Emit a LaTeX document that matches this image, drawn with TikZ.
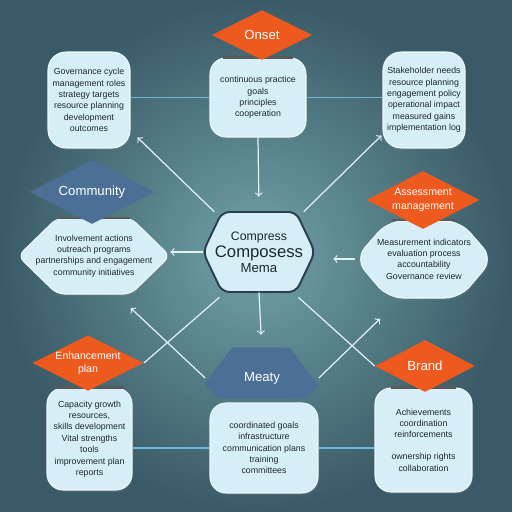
\documentclass[tikz,border=0pt]{standalone}
\usepackage{fontspec}
\setsansfont{Liberation Sans}
\usetikzlibrary{arrows}
\usetikzlibrary{positioning}
\usetikzlibrary{shapes.geometric}
\usetikzlibrary{shadows}
\definecolor{bgcenter}{RGB}{112, 163, 166}
\definecolor{bgedge}{RGB}{58, 90, 103}
\definecolor{flame}{RGB}{238, 90, 30}
\definecolor{steel}{RGB}{76, 111, 149}
\definecolor{frost}{RGB}{214, 238, 246}
\definecolor{frostline}{RGB}{236, 248, 252}
\definecolor{navy}{RGB}{44, 62, 85}
\definecolor{ink}{RGB}{30, 40, 46}
\definecolor{wire}{RGB}{226, 240, 244}
\definecolor{skyline}{RGB}{110, 182, 216}

\tikzset{
  card/.style={rectangle, rounded corners=0.32cm, fill=frost, draw=frostline, line width=0.6pt,
    align=center, text=ink, font=\sffamily\fontsize{5}{6.5}\selectfont, inner sep=0pt,
    drop shadow={opacity=0.25, shadow xshift=0.6pt, shadow yshift=-1.2pt}},
  hexback/.style={fill=frost, draw=frostline, line width=0.6pt, rounded corners=0.15cm,
    drop shadow={opacity=0.25, shadow xshift=0.6pt, shadow yshift=-1.2pt}},
  hextext/.style={align=center, text=ink, font=\sffamily\fontsize{5}{6.5}\selectfont, inner sep=0pt},
  tag/.style={diamond, aspect=2, inner sep=0pt, align=center, text=white,
    font=\sffamily\fontsize{7.5}{8.5}\selectfont},
  hotdiamond/.style={tag, fill=flame},
  colddiamond/.style={tag, fill=steel},
  wireline/.style={draw=wire, line width=0.7pt, >=to},
  rail/.style={draw=skyline, line width=1.1pt},
  capline/.style={draw=black!65, line width=1.3pt}
}

\begin{document}
\begin{tikzpicture}[x=0.02cm, y=-0.02cm]
  \useasboundingbox (0,0) rectangle (512,512);
  \shade[inner color=bgcenter, outer color=bgedge] (0,0) rectangle (512,512);

  % cards
  \node[card, minimum width=1.92cm, minimum height=1.58cm] (goals) at (258,97.5)
       {continuous practice\\goals\\principles\\cooperation};
  \node[card, rounded corners=0.36cm, minimum width=1.64cm, minimum height=1.92cm] (gov) at (89,100)
       {Governance cycle\\management roles\\strategy targets\\resource planning\\development\\outcomes};
  \node[card, rounded corners=0.36cm, minimum width=1.64cm, minimum height=1.92cm] (needs) at (424,100)
       {Stakeholder needs\\resource planning\\engagement policy\\operational impact\\measured gains\\implementation log};

  % hexagon cards
  \path[hexback] (57,218) -- (131,218) -- (170,256) -- (131,294) -- (57,294) -- (18,256) -- cycle;
  \node[hextext, minimum width=3.04cm, minimum height=1.52cm] (reach) at (94,256)
       {Involvement actions\\outreach programs\\partnerships and engagement\\community initiatives};
  \path[hexback, rounded corners=0.3cm] (388,221) -- (460,221) -- (493,259) -- (460,298) -- (388,298) -- (355,259) -- cycle;
  \node[hextext, minimum width=2.76cm, minimum height=1.54cm] (audit) at (424,259)
       {Measurement indicators\\evaluation process\\accountability\\Governance review};
  \path[hexback, draw=navy, line width=1.1pt] (222,212) -- (296,212) -- (315,252) -- (296,292) -- (222,292) -- (203,252) -- cycle;
  \node[hextext, minimum width=2.24cm, minimum height=1.6cm] (hub) at (259,252)
       {{\fontsize{7}{8}\selectfont Compress}\\[1pt]{\fontsize{9.5}{11}\selectfont Composess}\\{\fontsize{7.5}{9}\selectfont Mema}};

  \node[card, minimum width=1.7cm, minimum height=2.04cm] (growth) at (89.5,439)
       {Capacity growth\\resources,\\skills development\\Vital strengths\\tools\\improvement plan\\reports};
  \node[card, minimum width=2.16cm, minimum height=1.8cm] (team) at (264,448)
       {coordinated goals\\infrastructure\\communication plans\\training\\committees};
  \node[card, minimum width=1.94cm, minimum height=2.08cm] (own) at (423.5,440)
       {Achievements\\coordination\\reinforcements\\[6pt]ownership rights\\collaboration};

  % dark rims under the tags
  \draw[capline] ([xshift=-0.7cm]goals.north) -- ([xshift=0.7cm]goals.north);
  \draw[capline] ([xshift=-0.72cm]reach.north) -- ([xshift=0.72cm]reach.north);
  \draw[capline] ([xshift=-0.65cm]audit.north) -- ([xshift=0.65cm]audit.north);
  \draw[capline] ([xshift=-0.7cm]growth.north) -- ([xshift=0.7cm]growth.north);
  \draw[capline] ([xshift=-0.65cm]own.north) -- ([xshift=0.65cm]own.north);

  % tags
  \node[hotdiamond, minimum width=2.0cm, minimum height=1.0cm] (onset) at (262,35) {Onset};
  \node[colddiamond, minimum width=2.5cm, minimum height=1.28cm] (community) at (92,192) {Community};
  \node[hotdiamond, font=\sffamily\fontsize{6}{7.5}\selectfont, minimum width=2.26cm, minimum height=1.16cm]
       (assess) at (423,200) {Assessment\\management};
  \node[hotdiamond, font=\sffamily\fontsize{6}{7.5}\selectfont, minimum width=2.14cm, minimum height=1.06cm]
       (spark) at (88,363) {Enhancement\\plan};
  \node[hotdiamond, minimum width=2.0cm, minimum height=1.04cm] (brand) at (425,366) {Brand};
  \filldraw[steel] (232,348) -- (290,348) -- (318,386) -- (306,398) -- (218,398) -- (205,384) -- cycle;
  \node[text=white, font=\sffamily\fontsize{7.5}{8.5}\selectfont, minimum width=2.26cm, minimum height=1.0cm]
       (meaty) at (262,378) {Meaty};

  % rails
  \draw[rail] (goals.west) -- (goals.west -| gov.east);
  \draw[rail] (goals.east) -- (goals.east -| needs.west);
  \draw[rail] (team.west) -- (team.west -| growth.east);
  \draw[rail] (team.east) -- (team.east -| own.west);

  % connectors
  \draw[wireline, ->, shorten >=0.3cm] (goals.south) -- (hub.north);
  \draw[wireline, ->] (hub.138) -- ([shift={(0.14cm,0.22cm)}]gov.south east);
  \draw[wireline, ->] (hub.42) -- ([shift={(-0.02cm,0.26cm)}]needs.south west);
  \draw[wireline, ->] (hub.west) -- (hub.west -| reach.east);
  \draw[wireline, ->, shorten >=0.36cm] (audit.west) -- (audit.west -| hub.east);
  \draw[wireline, ->, shorten >=0.36cm] (hub.south) -- (meaty.north);
  \draw[wireline, ->, shorten >=0.4cm] (meaty.west) -- (reach.-60);
  \draw[wireline, shorten <=0.15cm] (hub.-130) -- (spark.east);
  \draw[wireline, shorten <=0.15cm] (hub.-50) -- (brand.west);
  \draw[wireline, ->, shorten >=0.6cm] (meaty.east) -- (audit.-120);
\end{tikzpicture}
\end{document}
